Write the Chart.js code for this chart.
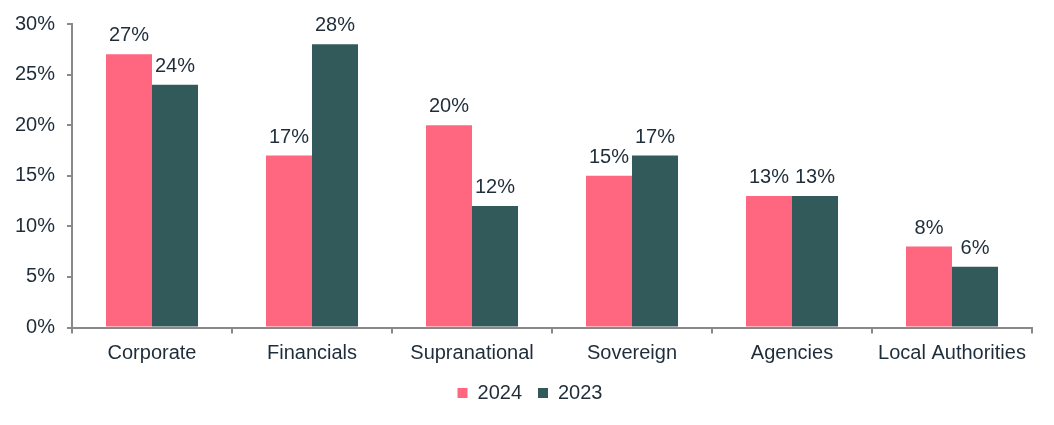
<!DOCTYPE html>
<html>
<head>
<meta charset="utf-8">
<script src="https://cdn.jsdelivr.net/npm/chart.js@4"></script>
<style>
  html, body { margin: 0; padding: 0; background: #fff; }
  #wrap { width: 1054px; height: 425px; position: relative; }
</style>
</head>
<body>
<div id="wrap"><canvas id="sectorChart"></canvas></div>
<script>
const categories = ['Corporate', 'Financials', 'Supranational', 'Sovereign', 'Agencies', 'Local Authorities'];
const values2024 = [27, 17, 20, 15, 13, 8];
const values2023 = [24, 28, 12, 17, 13, 6];
const yTicks = [0, 5, 10, 15, 20, 25, 30];

const textColor = '#1f2d3a';
const axisColor = '#898989';
const fontFamily = '"Liberation Sans", Arial, sans-serif';
const fontSize = 20;

// etiquetas em cima das barras
const barLabels = {
    id: 'barLabels',
    afterDatasetsDraw(chart) {
        const ctx = chart.ctx;
        ctx.save();
        ctx.font = fontSize + 'px ' + fontFamily;
        ctx.fillStyle = textColor;
        ctx.textAlign = 'center';
        ctx.textBaseline = 'alphabetic';
        chart.data.datasets.forEach((ds, i) => {
            chart.getDatasetMeta(i).data.forEach((bar, j) => {
                ctx.fillText(ds.data[j] + '%', bar.x, bar.y - 13);
            });
        });
        ctx.restore();
    }
};

// legenda um pouco mais à direita
const shiftLegend = {
    id: 'shiftLegend',
    afterLayout(chart) {
        if (chart.legend) {
            chart.legend.left += 14;
            chart.legend.right += 14;
        }
    }
};

new Chart(document.getElementById('sectorChart'), {
    type: 'bar',
    data: {
        labels: categories,
        datasets: [
            { label: '2024', data: values2024, backgroundColor: '#ff6680' },
            { label: '2023', data: values2023, backgroundColor: '#335a5a' }
        ]
    },
    options: {
        responsive: true,
        maintainAspectRatio: false,
        animation: false,
        categoryPercentage: 0.575,
        barPercentage: 1,
        layout: { padding: { top: 24, right: 22, left: 0, bottom: 12 } },
        plugins: {
            tooltip: { enabled: false },
            legend: {
                position: 'bottom',
                labels: {
                    boxWidth: 10,
                    boxHeight: 10,
                    padding: 16,
                    color: textColor,
                    font: { family: fontFamily, size: fontSize }
                }
            }
        },
        scales: {
            x: {
                grid: { display: true, drawOnChartArea: false, tickLength: 6, color: axisColor, lineWidth: 2 },
                border: { display: true, color: axisColor, width: 2 },
                ticks: { color: textColor, font: { family: fontFamily, size: fontSize }, padding: 8, maxRotation: 0 },
                afterFit: s => { s.height = 39.5; }
            },
            y: {
                min: 0,
                max: 30,
                afterBuildTicks: s => { s.ticks = yTicks.map(v => ({ value: v })); },
                grid: { display: true, drawOnChartArea: false, tickLength: 5, color: axisColor, lineWidth: 2 },
                border: { display: true, color: axisColor, width: 2 },
                ticks: {
                    color: textColor,
                    font: { family: fontFamily, size: fontSize },
                    padding: 12,
                    callback: v => v + '%'
                },
                afterFit: s => { s.width = 72; }
            }
        }
    },
    plugins: [barLabels, shiftLegend]
});
</script>
</body>
</html>
